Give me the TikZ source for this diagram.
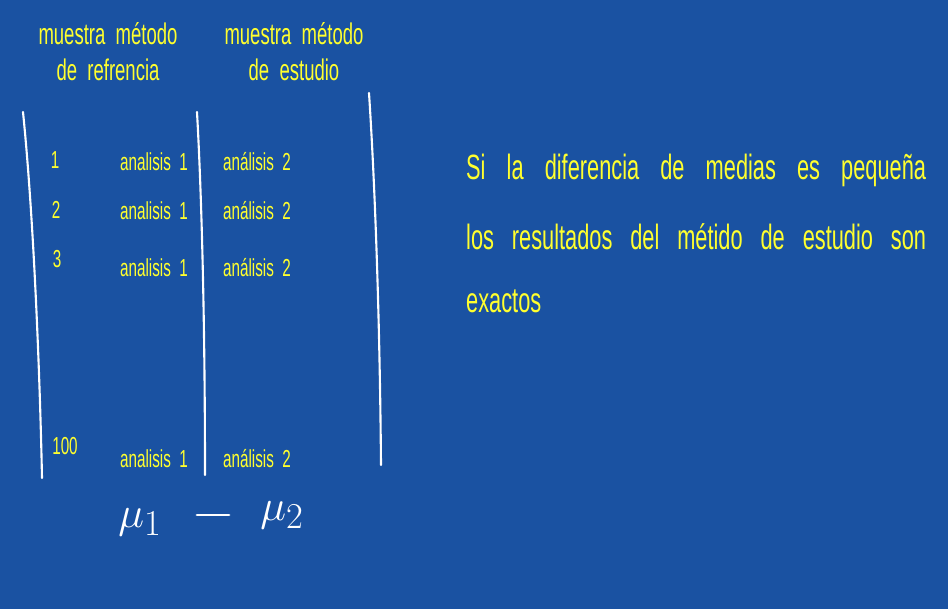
\documentclass[tikz,border=0pt]{standalone}
\usepackage{fontspec}
\setmainfont[FakeStretch=0.62]{Liberation Sans}
\usetikzlibrary{positioning}
\definecolor{board}{HTML}{1A52A2}
\definecolor{chalk}{HTML}{FFFF2E}
\newcommand{\spreadline}[1]{\makebox[9.2cm][s]{#1}}

\begin{document}
\begin{tikzpicture}[x=0.02cm,y=-0.02cm,
  head/.style={text=chalk, font=\fontsize{17}{20.5}\selectfont, align=center},
  cell/.style={text=chalk, font=\fontsize{14}{16}\selectfont},
  rule/.style={draw=white, line width=1.2pt, line cap=round},
  note/.style={text=chalk, font=\fontsize{20}{22}\selectfont, anchor=west}]
% board
\fill[board] (0,0) rectangle (948,609);
\useasboundingbox (0,0) rectangle (948,609);

% column headers
\node[head] (refhead) at (108,52) {muestra\ \ método\\de\ \ refrencia};
\node[head] (esthead) at (294,52) {muestra\ \ método\\de\ \ estudio};

% table rules
\draw[rule] (23,112) .. controls (34,220) and (40,380) .. (42,478);
\draw[rule] (197,112) .. controls (203,220) and (205,360) .. (205,475);
\draw[rule] (369,93) .. controls (376,200) and (380,340) .. (381,465);

% rows
\foreach \y/\k in {162/a, 211/b, 268/c, 459/d}{
  \node[cell] (ana\k) at (154,\y) {analisis\ \ 1};
  \node[cell] (anb\k) at (257,\y) {análisis\ \ 2};
}
\node[cell] (numa) at (55,160) {1};
\node[cell] (numb) at (56,210) {2};
\node[cell] (numc) at (57,259) {3};
\node[cell] (numd) at (65,446) {100};

% means
\node[text=white, font=\fontsize{30}{30}\selectfont] (mua) at (140,522) {$\mu_1$};
\node[text=white, font=\fontsize{30}{30}\selectfont] (mub) at (282,515) {$\mu_2$};
\coordinate (dasha) at (197,515);
\coordinate (dashb) at (229,515);
\draw[rule, line width=1.6pt] (dasha) -- (dashb);

% conclusion
\node[note] (lineA) at (460,170) {\spreadline{Si la diferencia de medias es pequeña}};
\node[note] (lineB) at (460,237) {\spreadline{los resultados del métido de estudio son}};
\node[note] (lineC) at (460,301) {exactos};
\end{tikzpicture}
\end{document}
